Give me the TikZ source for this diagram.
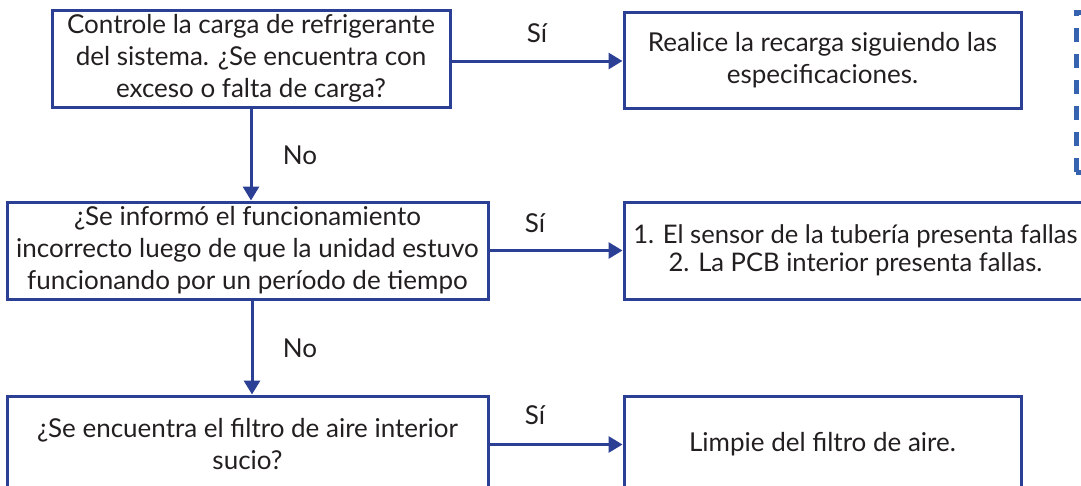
\documentclass[tikz,border=0pt]{standalone}
\usepackage{fontspec}
\setmainfont{Lato}
\usetikzlibrary{arrows.meta}
\definecolor{boxblue}{HTML}{2B3F94}
\definecolor{dashblue}{HTML}{3563B0}
\definecolor{ink}{HTML}{231F20}
\tikzset{
  box/.style={draw=boxblue, line width=3pt, align=center, inner sep=0pt,
    text=ink, font=\fontsize{26}{32}\selectfont},
  conn/.style={draw=boxblue, line width=3pt, -{Triangle[length=14pt,width=16pt]}},
  lbl/.style={text=ink, font=\fontsize{26}{32}\selectfont, inner sep=0pt},
}
\begin{document}
\begin{tikzpicture}[x=1pt,y=-1pt]
\useasboundingbox (0,0) rectangle (1081,485);
\clip (0,0) rectangle (1081,485);
\node[box, minimum width=398pt, minimum height=97pt] (a) at (251,58.5)
  {Controle la carga de refrigerante\\del sistema. ¿Se encuentra con\\exceso o falta de carga?};
\node[box, minimum width=397pt, minimum height=96pt] (b) at (822.5,60)
  {Realice la recarga siguiendo las\\especificaciones.};
\node[box, minimum width=481pt, minimum height=97pt] (c) at (247.5,250.5)
  {¿Se informó el funcionamiento\\incorrecto luego de que la unidad estuvo\\funcionando por un período de tiempo};
\node[box, minimum width=463pt, minimum height=97pt,
  font=\fontsize{25.6}{28}\selectfont] (d) at (855.5,250.5)
  {1. El sensor de la tubería presenta fallas\\2. La PCB interior presenta fallas.};
\node[box, minimum width=481pt, minimum height=97pt] (e) at (247.5,444.5)
  {¿Se encuentra el filtro de aire interior\\sucio?};
\node[box, minimum width=397pt, minimum height=97pt] (f) at (822.5,444.5)
  {Limpie del filtro de aire.};
\node[draw=dashblue, line width=5pt, dash pattern=on 14pt off 12pt,
  minimum width=250pt, minimum height=160pt, inner sep=0pt] (g) at (1201,92) {};
\draw[conn] (a.east |- 0,61) -- (b.west |- 0,61);
\draw[conn] (a.south -| 251,0) -- (c.north -| 251,0);
\draw[conn] (c.east) -- (d.west);
\draw[conn] (c.south -| 252,0) -- (e.north -| 252,0);
\draw[conn] (e.east) -- (f.west);
\node[lbl] (s1) at (537,33) {Sí};
\node[lbl] (n1) at (300,155) {No};
\node[lbl] (s2) at (535,223) {Sí};
\node[lbl] (n2) at (300,348) {No};
\node[lbl] (s3) at (535,415) {Sí};
\end{tikzpicture}
\end{document}
